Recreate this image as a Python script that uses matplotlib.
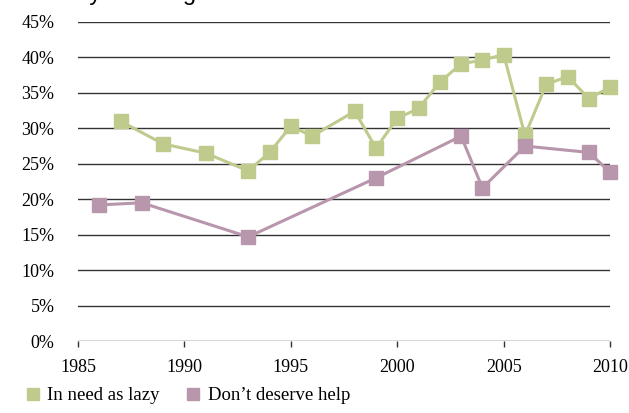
import numpy as np
import matplotlib
matplotlib.use("Agg")
from matplotlib import pyplot as plt
from matplotlib.lines import Line2D

# data
lazy_years = [1987, 1989, 1991, 1993, 1994, 1995, 1996, 1998, 1999, 2000,
              2001, 2002, 2003, 2004, 2005, 2006, 2007, 2008, 2009, 2010]
lazy_vals = [31.0, 27.8, 26.5, 24.0, 26.6, 30.3, 28.9, 32.4, 27.2, 31.4,
             32.8, 36.5, 39.1, 39.6, 40.4, 29.0, 36.2, 37.3, 34.2, 35.8]

help_years = [1986, 1988, 1993, 1999, 2003, 2004, 2006, 2009, 2010]
help_vals = [19.2, 19.5, 14.7, 23.0, 28.9, 21.6, 27.5, 26.6, 23.8]

yticks = [0, 5, 10, 15, 20, 25, 30, 35, 40, 45]
xticks = [1985, 1990, 1995, 2000, 2005, 2010]
labels = ["In need as lazy", "Don\u2019t deserve help"]
title = "Views by race & gender"

green = "#BFCB8D"
purple = "#B896AB"

serif = ["Liberation Serif", "DejaVu Serif"]

fig = plt.figure(figsize=(6.29, 4.13), dpi=100)
ax = fig.add_axes([0.124, 0.174, 0.846, 0.773])

for y in yticks:
    ax.axhline(y, color="#333333", lw=1.0, zorder=1)

ax.plot(lazy_years, lazy_vals, color=green, lw=2.2, marker="s", ms=9.5,
        zorder=3, clip_on=False)
ax.plot(help_years, help_vals, color=purple, lw=2.2, marker="s", ms=9.5,
        zorder=3, clip_on=False)

ax.set_xlim(1985, 2010)
ax.set_ylim(0, 45)
ax.set_yticks(yticks)
ax.set_yticklabels([str(v) + "%" for v in yticks], fontfamily=serif, fontsize=13)
ax.set_xticks(xticks)
ax.set_xticklabels([str(v) for v in xticks], fontfamily=serif, fontsize=13)
ax.tick_params(axis="y", length=0, pad=17)
ax.tick_params(axis="x", direction="out", length=4, width=1, color="#333333", pad=9)
for s in ["top", "right", "left", "bottom"]:
    ax.spines[s].set_visible(False)

handles = [Line2D([], [], color=green, marker="s", ls="none", ms=9),
           Line2D([], [], color=purple, marker="s", ls="none", ms=9)]
fig.legend(handles, labels, loc="lower left", bbox_to_anchor=(0.011, -0.02),
           ncol=2, frameon=False, prop={"family": serif, "size": 13.5},
           handletextpad=0.25, columnspacing=1.3, handlelength=1.0)

# title is cut off at the top edge in the reference, only the tails show
fig.text(0.21, 1.0, title, fontfamily="Liberation Sans", fontsize=17,
         va="baseline", ha="center")

fig.savefig("out.png", dpi=100)
